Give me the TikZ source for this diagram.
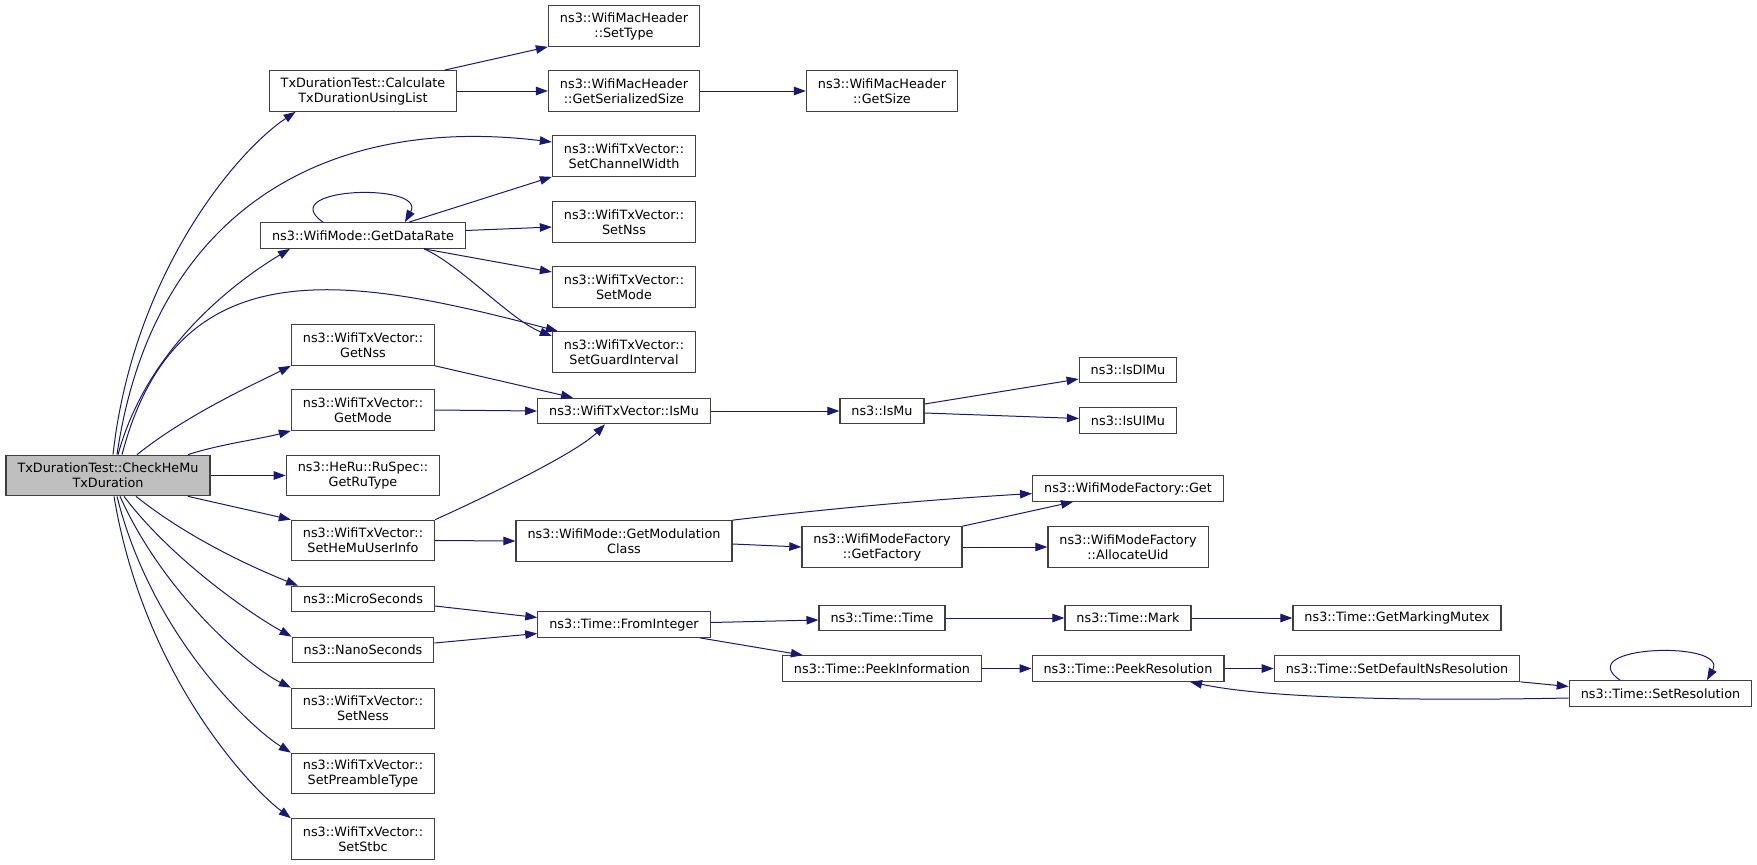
\documentclass[tikz,border=0pt]{standalone}
\usepackage{fontspec}
\setmainfont{DejaVu Sans}
\usetikzlibrary{arrows.meta,calc}
\definecolor{EdgeClr}{rgb}{0.098,0.098,0.439}
\definecolor{RootClr}{rgb}{0.749,0.749,0.749}
\definecolor{BoxClr}{rgb}{0.25,0.25,0.25}

\begin{document}
\begin{tikzpicture}[x=1pt,y=-1pt,
  fn/.style={draw=BoxClr,line width=1.2pt,fill=white,align=center,inner xsep=11.5pt,inner ysep=2pt,minimum height=25.5pt,font=\fontsize{12.8}{15}\selectfont},
  fntwo/.style={fn,minimum height=40.5pt},
  rootfn/.style={fntwo,fill=RootClr},
  calls/.style={draw=EdgeClr,line width=1pt,-{Triangle[length=12pt,width=8.5pt]}}]
\useasboundingbox (0,0) rectangle (1757,865);

% column 0
\node[rootfn] (root) at (108,475.5) {TxDurationTest::CheckHeMu\\TxDuration};

% column 1
\node[fntwo] (calc) at (363,91) {TxDurationTest::Calculate\\TxDurationUsingList};
\node[fn] (getDataRate) at (363,235.5) {ns3::WifiMode::GetDataRate};
\node[fntwo] (getNss) at (363,345) {ns3::WifiTxVector::\\GetNss};
\node[fntwo] (getMode) at (363,410) {ns3::WifiTxVector::\\GetMode};
\node[fntwo] (getRuType) at (363,475.5) {ns3::HeRu::RuSpec::\\GetRuType};
\node[fntwo] (setHeMu) at (363,540.5) {ns3::WifiTxVector::\\SetHeMuUserInfo};
\node[fn] (micro) at (363,599) {ns3::MicroSeconds};
\node[fn] (nano) at (363,650) {ns3::NanoSeconds};
\node[fntwo] (setNess) at (363,708.5) {ns3::WifiTxVector::\\SetNess};
\node[fntwo] (setPreamble) at (363,773.5) {ns3::WifiTxVector::\\SetPreambleType};
\node[fntwo] (setStbc) at (363,839) {ns3::WifiTxVector::\\SetStbc};

% column 2
\node[fntwo] (setType) at (624,26) {ns3::WifiMacHeader\\::SetType};
\node[fntwo] (getSerSize) at (624,91) {ns3::WifiMacHeader\\::GetSerializedSize};
\node[fntwo] (setChanW) at (624,156) {ns3::WifiTxVector::\\SetChannelWidth};
\node[fntwo] (setNss) at (624,222) {ns3::WifiTxVector::\\SetNss};
\node[fntwo] (setMode) at (624,287) {ns3::WifiTxVector::\\SetMode};
\node[fntwo] (setGuard) at (624,352) {ns3::WifiTxVector::\\SetGuardInterval};
\node[fn] (vecIsMu) at (624,411) {ns3::WifiTxVector::IsMu};
\node[fntwo] (getModClass) at (624,541) {ns3::WifiMode::GetModulation\\Class};
\node[fn] (fromInt) at (624,624.5) {ns3::Time::FromInteger};

% column 3
\node[fntwo] (getSize) at (882,91) {ns3::WifiMacHeader\\::GetSize};
\node[fn] (isMu) at (882,411) {ns3::IsMu};
\node[fntwo] (getFactory) at (882,547) {ns3::WifiModeFactory\\::GetFactory};
\node[fn] (timeTime) at (882,618) {ns3::Time::Time};
\node[fn] (peekInfo) at (882,668.5) {ns3::Time::PeekInformation};

% column 4
\node[fn] (isDlMu) at (1128,370) {ns3::IsDlMu};
\node[fn] (isUlMu) at (1128,420.5) {ns3::IsUlMu};
\node[fn] (modGet) at (1128,488.5) {ns3::WifiModeFactory::Get};
\node[fntwo] (allocUid) at (1128,547) {ns3::WifiModeFactory\\::AllocateUid};
\node[fn] (timeMark) at (1128,618) {ns3::Time::Mark};
\node[fn] (peekRes) at (1128,668.5) {ns3::Time::PeekResolution};

% columns 5 and 6
\node[fn] (markMutex) at (1397,618) {ns3::Time::GetMarkingMutex};
\node[fn] (setDefNs) at (1397,668.5) {ns3::Time::SetDefaultNsResolution};
\node[fn] (setRes) at (1660.5,693.5) {ns3::Time::SetResolution};

% calls of the root
\draw[calls] ([xshift=5pt]root.north) .. controls +(20,-180) and +(-60,40) .. ([xshift=27pt]calc.south west);
\draw[calls] ([xshift=9pt]root.north) .. controls +(35,-240) and +(-230,-28) .. ([yshift=14pt]setChanW.west);
\draw[calls] ([xshift=10pt]root.north) .. controls +(30,-110) and +(-50,30) .. ([xshift=30pt]getDataRate.south west);
\draw[calls] ([xshift=14pt]root.north) .. controls +(55,-210) and +(-210,-55) .. ([xshift=6pt]setGuard.north west);
\draw[calls] ([xshift=29pt]root.north) .. controls +(50,-40) and +(-40,20) .. (getNss.south west);
\draw[calls] ([xshift=80pt]root.north) .. controls +(30,-10) and +(-30,8) .. (getMode.south west);
\draw[calls] (root.east) -- (getRuType.west);
\draw[calls] ([xshift=80pt]root.south) -- (setHeMu.north west);
\draw[calls] ([xshift=28pt]root.south) .. controls +(50,40) and +(-50,-20) .. ([xshift=7pt]micro.north west);
\draw[calls] ([xshift=16pt]root.south) .. controls +(45,60) and +(-45,-25) .. (nano.north west);
\draw[calls] ([xshift=12pt]root.south) .. controls +(45,100) and +(-40,-20) .. (setNess.north west);
\draw[calls] ([xshift=9pt]root.south) .. controls +(35,140) and +(-40,-25) .. (setPreamble.north west);
\draw[calls] ([xshift=6pt]root.south) .. controls +(30,180) and +(-40,-30) .. (setStbc.north west);

% further calls
\draw[calls] ([xshift=-13pt]calc.north east) -- (setType.south west);
\draw[calls] (calc.east) -- (getSerSize.west);
\draw[calls] (getSerSize.east) -- (getSize.west);
\draw[calls] ([xshift=-40pt]getDataRate.north) .. controls +(-50,-35) and +(22,-40) .. ([xshift=42pt]getDataRate.north);
\draw[calls] ([xshift=46pt]getDataRate.north) -- (setChanW.south west);
\draw[calls] ([yshift=5pt]getDataRate.east) -- ([yshift=-5pt]setNss.west);
\draw[calls] ([xshift=-42pt]getDataRate.south east) -- ([yshift=15pt]setMode.west);
\draw[calls] ([xshift=-42pt]getDataRate.south east) .. controls +(35,15) and +(-40,-15) .. ([yshift=16pt]setGuard.west);
\draw[calls] (getNss.south east) -- ([xshift=36pt]vecIsMu.north west);
\draw[calls] (getMode.east) -- (vecIsMu.west);
\draw[calls] (setHeMu.north east) .. controls +(40,-18) and +(-30,30) .. ([xshift=68pt]vecIsMu.south west);
\draw[calls] (setHeMu.east) -- (getModClass.west);
\draw[calls] (vecIsMu.east) -- (isMu.west);
\draw[calls] ([yshift=7pt]isMu.east) -- ([yshift=-9pt]isDlMu.west);
\draw[calls] ([yshift=-2pt]isMu.east) -- ([yshift=2pt]isUlMu.west);
\draw[calls] (getModClass.north east) .. controls +(100,-12) and +(-100,6) .. ([yshift=-5pt]modGet.west);
\draw[calls] ([yshift=-3pt]getModClass.east) -- (getFactory.west);
\draw[calls] (getFactory.north east) -- ([xshift=41pt]modGet.south west);
\draw[calls] (getFactory.east) -- (allocUid.west);
\draw[calls] ([yshift=-7pt]micro.east) -- ([yshift=7pt]fromInt.west);
\draw[calls] ([yshift=7pt]nano.east) -- ([yshift=-9pt]fromInt.west);
\draw[calls] ([yshift=2pt]fromInt.east) -- ([yshift=-2pt]timeTime.west);
\draw[calls] ([xshift=-11pt]fromInt.south east) -- ([xshift=21pt]peekInfo.north west);
\draw[calls] (timeTime.east) -- (timeMark.west);
\draw[calls] (timeMark.east) -- (markMutex.west);
\draw[calls] (peekInfo.east) -- (peekRes.west);
\draw[calls] (peekRes.east) -- (setDefNs.west);
\draw[calls] (setDefNs.south east) -- ([yshift=7pt]setRes.west);
\draw[calls] ([xshift=-40.5pt]setRes.north) .. controls +(-50,-35) and +(22,-40) .. ([xshift=46.5pt]setRes.north);
\draw[calls] ([yshift=-4.5pt]setRes.west) .. controls +(-150,3) and +(80,17) .. ([xshift=62pt]peekRes.south);
\end{tikzpicture}
\end{document}
